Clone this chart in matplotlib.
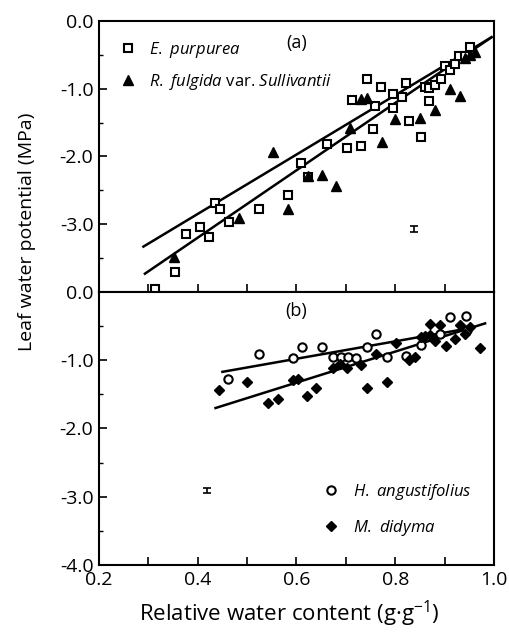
import numpy as np
import matplotlib
matplotlib.use("Agg")
import matplotlib.pyplot as plt
from matplotlib.ticker import MultipleLocator, FixedLocator, FixedFormatter

plt.rcParams['font.family'] = ['Open Sans', 'DejaVu Sans']
plt.rcParams['mathtext.fontset'] = 'custom'
plt.rcParams['mathtext.it'] = 'Open Sans:italic'
plt.rcParams['mathtext.rm'] = 'Open Sans'

# (a) E. purpurea
ep_x = [0.313, 0.354, 0.376, 0.405, 0.423, 0.435, 0.445, 0.463, 0.525, 0.582,
        0.610, 0.624, 0.661, 0.703, 0.712, 0.731, 0.742, 0.754, 0.760, 0.771,
        0.795, 0.795, 0.813, 0.822, 0.828, 0.852, 0.860, 0.869, 0.869, 0.880,
        0.892, 0.901, 0.911, 0.921, 0.930, 0.941, 0.951]
ep_y = [-3.96, -3.71, -3.14, -3.04, -3.19, -2.69, -2.78, -2.96, -2.78, -2.57,
        -2.09, -2.30, -1.82, -1.87, -1.16, -1.84, -0.86, -1.60, -1.25, -0.97,
        -1.08, -1.29, -1.12, -0.91, -1.47, -1.71, -0.97, -0.99, -1.18, -0.94,
        -0.86, -0.66, -0.73, -0.63, -0.52, -0.51, -0.39]
# (a) R. fulgida var. Sullivantii
rf_x = [0.352, 0.484, 0.553, 0.583, 0.624, 0.651, 0.680, 0.708, 0.731, 0.742,
        0.773, 0.800, 0.850, 0.880, 0.910, 0.932, 0.941, 0.951, 0.962]
rf_y = [-3.48, -2.91, -1.94, -2.78, -2.29, -2.27, -2.44, -1.58, -1.15, -1.13,
        -1.78, -1.44, -1.43, -1.32, -1.01, -1.10, -0.54, -0.50, -0.46]

# (b) H. angustifolius
ha_x = [0.462, 0.524, 0.592, 0.611, 0.651, 0.673, 0.691, 0.704, 0.720, 0.742,
        0.761, 0.783, 0.821, 0.852, 0.891, 0.911, 0.943, 0.945]
ha_y = [-1.27, -0.91, -0.96, -0.81, -0.81, -0.95, -0.95, -0.95, -0.96, -0.81,
        -0.61, -0.95, -0.94, -0.77, -0.62, -0.37, -0.35, -0.55]
# (b) M. didyma
md_x = [0.443, 0.500, 0.542, 0.563, 0.592, 0.604, 0.621, 0.640, 0.673, 0.688,
        0.702, 0.730, 0.742, 0.761, 0.783, 0.801, 0.827, 0.840, 0.852, 0.860,
        0.870, 0.870, 0.880, 0.891, 0.903, 0.921, 0.931, 0.941, 0.951, 0.972]
md_y = [-1.43, -1.32, -1.62, -1.57, -1.29, -1.28, -1.53, -1.40, -1.12, -1.05,
        -1.12, -1.07, -1.40, -0.91, -1.32, -0.75, -0.99, -0.95, -0.66, -0.65,
        -0.47, -0.63, -0.72, -0.48, -0.79, -0.69, -0.48, -0.61, -0.51, -0.82]

# regression lines (x start, x end), (y start, y end)
ep_line = ([0.290, 0.995], [-3.33, -0.24])
rf_line = ([0.293, 0.995], [-3.73, -0.24])
ha_line = ([0.450, 0.951], [-1.17, -0.53])
md_line = ([0.436, 0.982], [-1.70, -0.46])

# error bars (x, y, half-width)
err_a = (0.837, -3.07, 0.05)
err_b = (0.418, -2.91, 0.04)

fig = plt.figure(figsize=(5.09, 6.32), dpi=100)
ax1 = fig.add_axes([0.1945, 0.538, 0.776, 0.4288])
ax2 = fig.add_axes([0.1945, 0.106, 0.776, 0.432])

lw = 1.8
ax1.plot(*ep_line, color='black', lw=lw)
ax1.plot(*rf_line, color='black', lw=lw)
ax1.plot(ep_x, ep_y, ls='none', marker='s', ms=6, mfc='white', mec='black', mew=1.5,
         clip_on=False, zorder=3, label=r'$\mathit{E.\ purpurea}$')
ax1.plot(rf_x, rf_y, ls='none', marker='^', ms=7, color='black', clip_on=False, zorder=3,
         label=r'$\mathit{R.\ fulgida}$ var. $\mathit{Sullivantii}$')
ax1.errorbar(err_a[0], err_a[1], yerr=err_a[2], color='black', capsize=3, lw=1.2, capthick=1.2)

ax2.plot(*ha_line, color='black', lw=lw)
ax2.plot(*md_line, color='black', lw=lw)
ax2.plot(ha_x, ha_y, ls='none', marker='o', ms=6, mfc='white', mec='black', mew=1.5,
         zorder=3, label=r'$\mathit{H.\ angustifolius}$')
ax2.plot(md_x, md_y, ls='none', marker='D', ms=5.5, color='black', zorder=3,
         label=r'$\mathit{M.\ didyma}$')
ax2.errorbar(err_b[0], err_b[1], yerr=err_b[2], color='black', capsize=3, lw=1.2, capthick=1.2)

xt = [0.2, 0.3, 0.4, 0.5, 0.6, 0.7, 0.8, 0.9, 1.0]
xl = ['0.2', '', '0.4', '', '0.6', '', '0.8', '', '1.0']
for ax in (ax1, ax2):
    ax.set_xlim(0.2, 1.0)
    ax.set_ylim(-4.0, 0.0)
    ax.xaxis.set_major_locator(FixedLocator(xt))
    ax.yaxis.set_major_locator(FixedLocator([-4, -3, -2, -1, 0]))
    ax.yaxis.set_minor_locator(MultipleLocator(0.5))
    ax.tick_params(axis='both', which='major', direction='in', length=6, width=1.2,
                   labelsize=14, pad=4)
    ax.tick_params(axis='y', which='minor', direction='in', length=3, width=1.0)
    for s in ax.spines.values():
        s.set_linewidth(1.5)

ax1.yaxis.set_major_formatter(FixedFormatter(['', '-3.0', '-2.0', '-1.0', '0.0']))
ax1.tick_params(axis='x', labelbottom=False)
ax2.yaxis.set_major_formatter(FixedFormatter(['-4.0', '-3.0', '-2.0', '-1.0', '0.0']))
ax2.xaxis.set_major_formatter(FixedFormatter(xl))

ax1.text(0.5, 0.92, '(a)', transform=ax1.transAxes, ha='center', va='center', fontsize=13)
ax2.text(0.5, 0.93, '(b)', transform=ax2.transAxes, ha='center', va='center', fontsize=13)

ax1.legend(loc='upper left', bbox_to_anchor=(0.035, 0.955), frameon=False, fontsize=12,
           handlelength=1.0, handletextpad=0.8, labelspacing=0.7, borderaxespad=0)
ax2.legend(loc='lower left', bbox_to_anchor=(0.55, 0.075), frameon=False, fontsize=12,
           handlelength=1.0, handletextpad=0.8, labelspacing=0.95, borderaxespad=0)

fig.text(0.053, 0.633, 'Leaf water potential (MPa)', rotation=90, ha='center', va='center',
         fontsize=14)
fig.text(0.568, 0.004, 'Relative water content (g\u00b7g$^{-1}$)', ha='center', va='bottom',
         fontsize=16)

fig.savefig('out.png', dpi=100)
